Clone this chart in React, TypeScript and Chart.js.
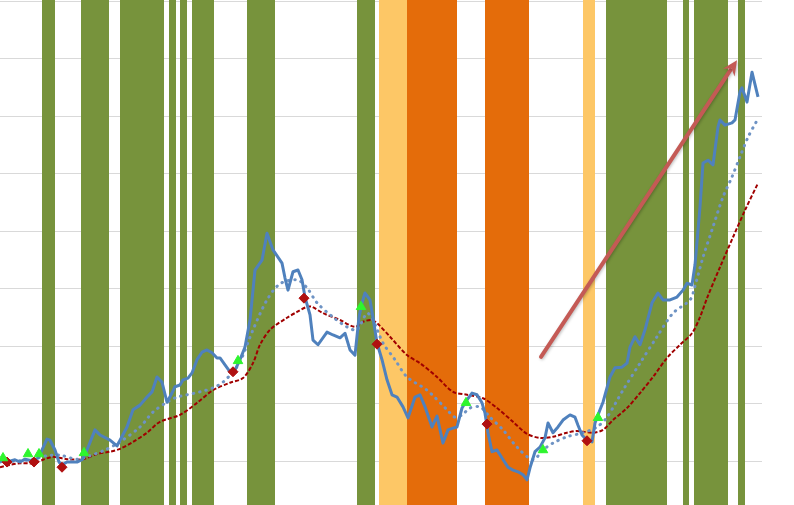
import React, { useEffect, useRef } from "react";
import { Chart, registerables } from "chart.js";

Chart.register(...registerables);

// x: period index, y: index level (gridline every 10)
const priceX = [0, 1.4, 3, 4, 5, 6.6, 7.6, 8.4, 9.4, 10, 11, 11.8, 12.4, 13.4, 15.4, 16.4, 17.4, 19, 20, 22, 23.4, 25.4, 26.6, 28, 29.4, 30.4, 31.4, 32.4, 33.4, 34.4, 35, 36, 36.6, 37.6, 38.4, 39.4, 40.4, 41.4, 42.4, 43.4, 44, 45, 46, 47, 48, 49, 50, 51, 52.4, 53.4, 54.6, 56.4, 57, 57.6, 58.6, 59.6, 60.4, 61, 62, 62.6, 63.6, 65.4, 66.6, 68, 69, 70, 71, 71.8, 72.4, 73, 74, 74.6, 75.4, 76.4, 77.4, 78.4, 79.4, 80.6, 81.6, 83, 84, 85, 86.4, 87.4, 88.6, 89.6, 90.6, 91.4, 92.4, 93.4, 94.4, 95.4, 96.4, 97, 97.6, 98.4, 99.4, 100.4, 101.6, 102.6, 103.6, 104.6, 105.4, 106, 107, 108, 109, 109.6, 110.6, 111.6, 112.6, 114, 115, 115.6, 116.4, 117.4, 118.4, 119, 120, 120.6, 122, 123, 124.4, 125.4, 126, 127, 128, 129, 130.4, 131.6, 132.6, 134, 135.4, 136.6, 137.4, 138.4, 139, 140, 140.6, 141.6, 142.6, 143.6, 144, 145, 146.4, 147, 148, 148.4, 149.4, 150.4, 151.6];
const priceY = [0.1, -0.1, 0.3, -0.1, 0.4, 0.1, 0.6, 2.0, 3.9, 3.7, 2.0, -0.1, -0.6, -0.1, -0.1, 0.3, 2.0, 5.5, 4.6, 3.7, 2.7, 6.0, 9.0, 9.8, 11.2, 12.1, 14.7, 13.8, 10.3, 11.9, 13.0, 13.3, 14.2, 14.5, 15.4, 17.7, 19.0, 19.4, 18.9, 18.0, 18.0, 16.8, 15.6, 15.9, 17.7, 19.9, 24.6, 33.3, 35.0, 39.7, 36.8, 34.5, 31.9, 29.8, 33.0, 33.3, 31.6, 28.6, 25.5, 21.1, 20.3, 22.5, 22.0, 21.5, 22.3, 19.4, 18.5, 25.1, 27.6, 29.3, 28.1, 25.0, 20.6, 17.7, 14.2, 11.6, 11.2, 9.5, 7.6, 11.2, 11.6, 9.5, 6.0, 7.9, 3.2, 5.5, 5.8, 6.0, 9.3, 10.7, 11.9, 11.6, 10.2, 8.4, 5.0, 1.7, 2.0, 0.6, -1.0, -1.5, -1.8, -2.3, -3.2, -1.1, 1.7, 2.5, 4.1, 6.7, 5.0, 6.0, 7.2, 8.1, 7.7, 6.3, 4.6, 3.7, 3.4, 6.7, 9.0, 10.3, 14.7, 16.3, 16.4, 17.1, 19.9, 21.7, 20.3, 22.9, 27.6, 29.3, 28.1, 28.1, 28.6, 29.8, 31.0, 30.7, 34.2, 44.3, 51.9, 52.4, 51.6, 58.2, 59.4, 58.5, 58.9, 59.4, 64.3, 65.0, 62.5, 67.7, 63.4];

const fastX = [0, 6, 9.4, 12, 15.4, 18, 21, 24, 28, 30.6, 33.4, 35.4, 37.4, 40, 42.6, 44.6, 46.6, 48, 50.6, 53.4, 56, 59.4, 61.4, 63.4, 66.6, 69.4, 71.4, 73.4, 74.6, 76.6, 79, 81.4, 85.4, 89.4, 91, 92.4, 94, 96, 98, 100.6, 103.4, 106.6, 108.6, 110.6, 113.4, 116.6, 119.4, 121.4, 124.6, 128, 131.4, 134.6, 138, 139, 140.6, 142.6, 144.6, 146.4, 148, 149.6, 151.2];
const fastY = [-0.1, 0.3, 1.0, 1.1, 0.4, 1.0, 2.0, 3.4, 6.0, 8.6, 10.3, 11.2, 11.6, 12.1, 12.8, 13.8, 15.6, 17.3, 22.9, 28.1, 30.9, 31.6, 30.2, 27.6, 25.1, 23.4, 22.9, 25.8, 24.6, 20.6, 17.7, 14.7, 12.4, 9.0, 7.7, 8.1, 9.3, 9.5, 7.7, 5.5, 2.5, 0.3, 2.0, 3.2, 4.3, 5.0, 6.0, 7.7, 12.4, 17.1, 21.7, 25.8, 28.1, 30.5, 35.5, 40.8, 46.0, 49.5, 53.0, 56.4, 59.0];

const slowX = [0, 2, 4, 6.6, 8.6, 10.6, 13.4, 16.6, 19.4, 22, 24, 26.6, 29.4, 32, 36, 39.4, 42.6, 46, 48.6, 50.6, 52, 54, 57.4, 59.4, 61.4, 62.4, 64.6, 68, 71, 72.6, 74.4, 75.6, 78, 81.4, 84, 87.4, 90.6, 93.4, 96.6, 99.4, 102.6, 105.4, 108, 110.6, 113.4, 115.4, 118.6, 120.6, 122.6, 125.4, 128, 130.6, 133.4, 136, 138.4, 140, 141.4, 144, 146.6, 149, 151.6];
const slowY = [-1.0, -0.6, -0.3, -0.3, 0.3, 0.8, 0.4, 0.4, 1.3, 1.7, 2.2, 3.4, 5.0, 6.9, 8.1, 10.2, 12.4, 13.7, 14.5, 17.1, 20.3, 22.9, 25.0, 26.0, 26.9, 26.9, 25.8, 24.6, 23.4, 24.3, 24.6, 23.9, 21.7, 18.5, 17.1, 14.7, 12.1, 11.6, 11.0, 9.3, 6.9, 4.8, 4.1, 4.3, 5.0, 5.3, 5.0, 5.5, 7.2, 9.3, 11.9, 14.7, 18.0, 20.3, 22.3, 25.1, 28.4, 33.8, 39.0, 43.7, 48.4];

const buyX = [0.6, 5.6, 7.8, 16.8, 47.6, 72.2, 93.2, 108.6, 119.6];
const buyY = [0.6, 1.3, 1.3, 1.5, 17.5, 26.9, 10.2, 2.0, 7.6];

const sellX = [1.4, 6.8, 12.4, 46.6, 60.8, 75.4, 97.4, 117.4];
const sellY = [-0.1, -0.1, -1.0, 15.6, 28.4, 20.4, 6.5, 3.6];

const greenBands = [[8.4, 11], [16.2, 21.8], [24, 32.8], [33.8, 35.2], [36, 37.4], [38.4, 42.8], [49.4, 55], [71.4, 75], [121.2, 133.4], [136.6, 137.8], [138.8, 145.6], [147.6, 149]];
const lightOrangeBands = [[75.8, 81.4], [116.6, 119]];
const darkOrangeBands = [[81.4, 91.4], [97, 105.8]];

const arrowFrom = [108.2, 18.2];
const arrowTo = [147.4, 69.8];

const yTicks = [0, 10, 20, 30, 40, 50, 60, 70, 80];

const pts = (xs: number[], ys: number[]) => xs.map((x, i) => ({ x, y: ys[i] }));

const bandsPlugin = {
  id: "bands",
  beforeDatasetsDraw(chart: any) {
    const { ctx, chartArea, scales } = chart;
    const draw = (bands: number[][], color: string) => {
      ctx.fillStyle = color;
      bands.forEach(([a, b]) => {
        const x1 = scales.x.getPixelForValue(a);
        const x2 = scales.x.getPixelForValue(b);
        ctx.fillRect(x1, chartArea.top, x2 - x1, chartArea.bottom - chartArea.top);
      });
    };
    ctx.save();
    draw(greenBands, "#77933C");
    draw(lightOrangeBands, "#FDC766");
    draw(darkOrangeBands, "#E46C0A");
    ctx.restore();
  },
};

const arrowPlugin = {
  id: "arrow",
  afterDatasetsDraw(chart: any) {
    const { ctx, scales } = chart;
    const x1 = scales.x.getPixelForValue(arrowFrom[0]);
    const y1 = scales.y.getPixelForValue(arrowFrom[1]);
    const x2 = scales.x.getPixelForValue(arrowTo[0]);
    const y2 = scales.y.getPixelForValue(arrowTo[1]);
    const ang = Math.atan2(y2 - y1, x2 - x1);
    const head = 15;
    const hw = 7;
    ctx.save();
    ctx.shadowColor = "rgba(0,0,0,0.25)";
    ctx.shadowBlur = 3;
    ctx.shadowOffsetX = 1;
    ctx.shadowOffsetY = 1;
    ctx.strokeStyle = "#C45A55";
    ctx.fillStyle = "#C45A55";
    ctx.lineWidth = 4;
    ctx.lineCap = "round";
    const bx = x2 - Math.cos(ang) * (head - 3);
    const by = y2 - Math.sin(ang) * (head - 3);
    ctx.beginPath();
    ctx.moveTo(x1, y1);
    ctx.lineTo(bx, by);
    ctx.stroke();
    ctx.beginPath();
    ctx.moveTo(x2, y2);
    const px = x2 - Math.cos(ang) * head;
    const py = y2 - Math.sin(ang) * head;
    ctx.lineTo(px - Math.sin(ang) * -hw, py + Math.cos(ang) * -hw);
    ctx.lineTo(x2 - Math.cos(ang) * (head - 5), y2 - Math.sin(ang) * (head - 5));
    ctx.lineTo(px + Math.sin(ang) * -hw, py - Math.cos(ang) * -hw);
    ctx.closePath();
    ctx.fill();
    ctx.restore();
  },
};

export default function App() {
  const ref = useRef<HTMLCanvasElement | null>(null);

  useEffect(() => {
    if (!ref.current) return;
    const chart = new Chart(ref.current, {
      type: "line",
      data: {
        datasets: [
          {
            label: "Buy",
            data: pts(buyX, buyY),
            showLine: false,
            pointStyle: "triangle",
            pointRadius: 5.5,
            backgroundColor: "#2EF52E",
            borderColor: "#2EF52E",
            borderWidth: 1,
          },
          {
            label: "Sell",
            data: pts(sellX, sellY),
            showLine: false,
            pointStyle: "rectRot",
            pointRadius: 5,
            backgroundColor: "#B01010",
            borderColor: "#B01010",
            borderWidth: 1,
          },
          {
            label: "Price",
            data: pts(priceX, priceY),
            borderColor: "#4F81BD",
            borderWidth: 3,
            pointRadius: 0,
            tension: 0,
            borderJoinStyle: "round",
          },
          {
            label: "Fast MA",
            data: pts(fastX, fastY),
            borderColor: "#6E93C4",
            borderWidth: 3,
            borderDash: [0.5, 6],
            borderCapStyle: "round",
            pointRadius: 0,
            tension: 0.3,
          },
          {
            label: "Slow MA",
            data: pts(slowX, slowY),
            borderColor: "#A00000",
            borderWidth: 2,
            borderDash: [4, 2],
            pointRadius: 0,
            tension: 0.3,
          },
        ],
      },
      options: {
        animation: false,
        responsive: false,
        devicePixelRatio: 1,
        layout: { autoPadding: false, padding: { left: 0, right: 32, top: 0, bottom: 0 } },
        plugins: { legend: { display: false }, tooltip: { enabled: false } },
        scales: {
          x: {
            type: "linear",
            min: 0,
            max: 152.4,
            display: false,
          },
          y: {
            type: "linear",
            min: -7.57,
            max: 80.26,
            afterBuildTicks: (scale: any) => {
              scale.ticks = yTicks.map((v) => ({ value: v }));
            },
            ticks: { display: false },
            border: { display: false },
            grid: { color: "#D9D9D9", lineWidth: 1, drawTicks: false },
          },
        },
      },
      plugins: [bandsPlugin, arrowPlugin],
    });
    return () => chart.destroy();
  }, []);

  return (
    <div style={{ position: "fixed", left: 0, top: 0, width: 794, height: 505, background: "#fff" }}>
      <canvas ref={ref} width={794} height={505} style={{ display: "block" }} />
    </div>
  );
}
